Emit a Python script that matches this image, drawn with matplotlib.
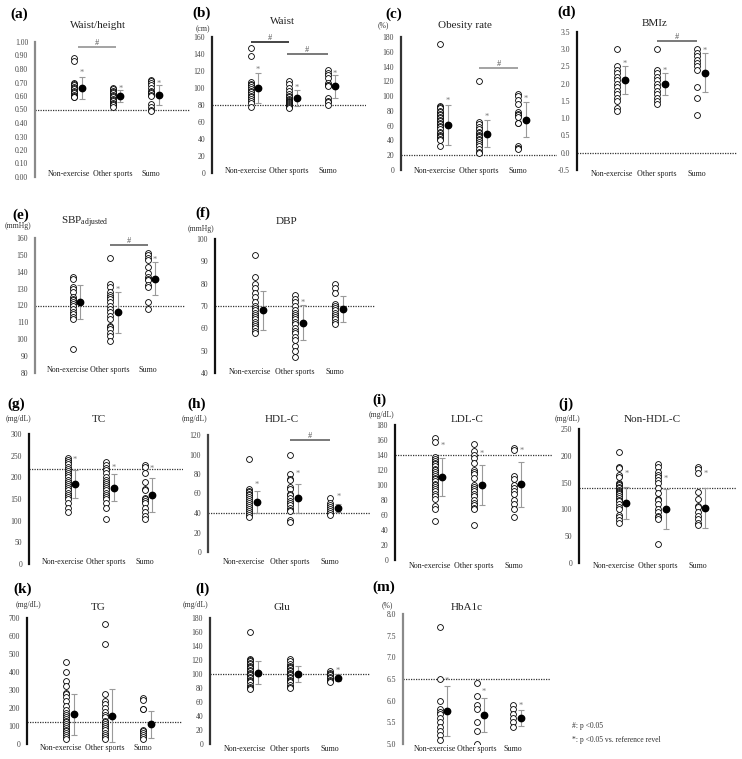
import matplotlib
matplotlib.use("Agg")
import matplotlib.pyplot as plt
import numpy as np

plt.rcParams['font.family'] = ['Liberation Serif', 'DejaVu Serif']
plt.rcParams['mathtext.fontset'] = 'custom'
plt.rcParams['mathtext.rm'] = 'Liberation Serif'

W, H = 742, 759
groups = ["Non-exercise", "Other sports", "Sumo"]

# (a) waist / height
wh_pts = [[0.88, 0.86, 0.70, 0.69, 0.68, 0.67, 0.66, 0.65, 0.64, 0.63, 0.62, 0.61, 0.60, 0.59, 0.59],
          [0.66, 0.65, 0.64, 0.63, 0.62, 0.61, 0.60, 0.59, 0.58, 0.57, 0.56, 0.55, 0.54, 0.53, 0.52],
          [0.72, 0.71, 0.70, 0.68, 0.66, 0.64, 0.63, 0.62, 0.61, 0.60, 0.54, 0.52, 0.50, 0.49]]
wh_mean = [0.66, 0.60, 0.61]
wh_sd = [0.083, 0.043, 0.073]
wh_star = [0.77, 0.65, 0.69]

# (b) waist
wa_pts = [[147, 138, 107, 105, 103, 101, 99, 97, 95, 93, 91, 89, 87, 85, 82, 78],
          [108, 105, 100, 96, 93, 91, 89, 87, 86, 85, 84, 83, 82, 81, 80, 79, 78, 77],
          [121, 118, 115, 112, 106, 104, 103, 102, 88, 85, 83, 80]]
wa_mean = [100, 88, 102]
wa_sd = [18, 9.5, 13.5]
wa_star = [121, 100, 117]

# (c) obesity rate
ob_pts = [[170, 86, 85, 84, 80, 78, 76, 74, 72, 70, 68, 66, 64, 62, 60, 58, 55, 52, 50, 48, 46, 44, 42, 40, 32],
          [120, 65, 62, 58, 55, 52, 50, 48, 46, 44, 42, 40, 38, 35, 32, 28, 25, 23],
          [103, 100, 95, 90, 78, 76, 74, 72, 64, 63, 32, 30, 28]]
ob_mean = [61, 49, 68]
ob_sd = [27, 18.5, 24]
ob_star = [93, 72, 96]

# (d) BMIz
bz_pts = [[3.0, 2.5, 2.4, 2.3, 2.2, 2.1, 2.0, 1.9, 1.8, 1.7, 1.6, 1.5, 1.3, 1.2],
          [3.0, 2.4, 2.3, 2.2, 2.1, 2.0, 1.9, 1.8, 1.7, 1.6, 1.5, 1.4],
          [3.0, 2.9, 2.8, 2.7, 2.6, 2.5, 2.4, 1.9, 1.6, 1.1]]
bz_mean = [2.1, 2.0, 2.32]
bz_sd = [0.4, 0.32, 0.57]
bz_star = [2.58, 2.38, 2.95]

# (e) SBP adjusted
sbp_pts = [[137, 136, 131, 130, 128, 125, 124, 123, 122, 121, 120, 118, 116, 115, 113, 112, 94],
           [148, 133, 131, 128, 126, 125, 124, 122, 120, 118, 116, 114, 112, 108, 107, 106, 104, 102, 99],
           [151, 150, 148, 147, 143, 139, 137, 136, 135, 132, 131, 122, 118]]
sbp_mean = [122, 116, 136]
sbp_sd = [10, 12, 10]
sbp_star = [None, 129, 147]

# (f) DBP
dbp_pts = [[93, 83, 80, 78, 76, 74, 72, 70, 69, 68, 67, 66, 65, 64, 63, 62, 61, 60, 59, 58],
           [75, 73, 72, 70, 68, 67, 66, 65, 64, 63, 62, 60, 59, 58, 56, 55, 52, 50, 47],
           [80, 78, 76, 71, 70, 69, 68, 67, 66, 65, 64, 63, 62]]
dbp_mean = [68, 62.5, 68.5]
dbp_sd = [8.7, 7.8, 5.8]
dbp_star = [None, 71.2, None]

# (g) TC
tc_pts = [[245, 240, 235, 230, 225, 220, 215, 210, 205, 200, 195, 190, 185, 180, 175, 170, 165, 160, 155, 150, 140, 130, 120],
          [235, 228, 222, 218, 210, 200, 195, 190, 185, 180, 175, 170, 165, 160, 155, 150, 140, 130, 105],
          [228, 225, 210, 190, 172, 170, 152, 150, 145, 140, 130, 120, 110, 105]]
tc_mean = [184, 176, 159]
tc_sd = [32, 31, 39]
tc_star = [240, 222, 220]

# (h) HDL-C
hdl_pts = [[95, 65, 63, 62, 60, 58, 56, 54, 52, 50, 48, 46, 44, 42, 40, 38, 36],
           [100, 80, 75, 74, 67, 65, 60, 58, 55, 52, 50, 48, 45, 43, 42, 33, 31],
           [55, 50, 48, 46, 44, 42, 40, 38]]
hdl_mean = [51, 55, 45]
hdl_sd = [11.5, 15, 4]
hdl_star = [69, 80, 57]

# (i) LDL-C
ldl_pts = [[163, 158, 138, 135, 132, 130, 128, 125, 122, 120, 118, 115, 112, 110, 108, 105, 102, 100, 98, 95, 92, 88, 85, 82, 72, 68, 52],
           [155, 145, 140, 136, 130, 120, 118, 115, 110, 100, 97, 95, 92, 88, 85, 80, 76, 73, 70, 68, 47],
           [150, 147, 112, 108, 100, 96, 92, 88, 80, 75, 68, 58]]
ldl_mean = [111, 100, 101]
ldl_sd = [25.5, 27, 30]
ldl_star = [152, 141, 145]

# (j) Non-HDL-C
nhdl_pts = [[208, 180, 178, 165, 160, 150, 147, 145, 142, 140, 137, 135, 132, 130, 128, 125, 122, 118, 115, 110, 105, 100, 90, 85, 80, 75],
            [185, 180, 170, 165, 160, 155, 150, 140, 130, 120, 118, 110, 100, 95, 88, 85, 82, 36],
            [180, 175, 167, 133, 120, 106, 104, 95, 88, 82, 75, 70]]
nhdl_mean = [112, 101, 102]
nhdl_sd = [30, 37, 37.5]
nhdl_star = [167, 156, 166]

# (k) TG
tg_pts = [[455, 400, 350, 320, 285, 280, 260, 240, 210, 190, 170, 160, 150, 140, 130, 120, 110, 100, 90, 80, 70, 60, 50, 40, 30],
          [668, 558, 280, 240, 220, 200, 180, 160, 150, 130, 120, 110, 100, 90, 80, 60, 50, 40, 30],
          [258, 243, 195, 192, 80, 70, 60, 50, 40, 30]]
tg_mean = [165, 157, 110]
tg_sd = [113, 146, 75]
tg_star = [None, None, None]

# (l) Glu
glu_pts = [[160, 122, 120, 118, 116, 114, 112, 110, 108, 106, 104, 102, 100, 98, 96, 94, 92, 90, 88, 84, 82, 80, 78],
           [122, 118, 115, 112, 110, 108, 106, 104, 102, 100, 98, 96, 94, 92, 90, 88, 85, 82, 80],
           [104, 102, 100, 98, 96, 94, 92, 90, 88]]
glu_mean = [102, 100, 95]
glu_sd = [16.5, 11, 4.5]
glu_star = [None, None, 104]

# (m) HbA1c
hb_pts = [[7.7, 6.5, 6.0, 5.8, 5.75, 5.7, 5.6, 5.5, 5.4, 5.3, 5.2, 5.1],
          [6.4, 6.1, 5.9, 5.8, 5.5, 5.3, 5.0],
          [5.9, 5.8, 5.7, 5.6, 5.5, 5.4]]
hb_mean = [5.77, 5.67, 5.6]
hb_sd = [0.58, 0.4, 0.18]
hb_star = [6.45, 6.2, 5.88]


def fx(x):
    return x / W


def fy(y):
    return 1 - y / H


fig = plt.figure(figsize=(W / 100, H / 100), dpi=100)

# label, title, unit, pts, mean, sd, star, ref, ylim, step, fmt, box(l,t,r,b), spine colour,
# title xy, label xy, unit xy, category label y (px), sig bars
panels = [
    ("(a)", "Waist/height", None, wh_pts, wh_mean, wh_sd, wh_star, 0.5, (0, 1.0), 0.1, "{:.2f}",
     (35, 42, 190, 177), "#8a8a8a", (98, 25), (10, 14), None, 174, [(1.1, 2.1, 0.963, "#8a8a8a")]),
    ("(b)", "Waist", "(cm)", wa_pts, wa_mean, wa_sd, wa_star, 80, (0, 160), 20, "{:.0f}",
     (212, 37, 366, 173), "#222222", (282, 22), (192, 13), (196, 29), 171,
     [(1.0, 2.0, 154, "#111111"), (1.95, 3.0, 140, "#555555")]),
    ("(c)", "Obesity rate", "(%)", ob_pts, ob_mean, ob_sd, ob_star, 20, (0, 180), 20, "{:.0f}",
     (401, 37, 557, 170), "#333333", (465, 26), (385, 14), (378, 25), 171, [(2.0, 3.0, 138, "#8a8a8a")]),
    ("(d)", "BMIz", None, bz_pts, bz_mean, bz_sd, bz_star, 0.0, (-0.5, 3.5), 0.5, "{:.1f}",
     (577, 32, 737, 170), "#111111", (655, 24), (557, 12), None, 174, [(2.0, 3.0, 3.23, "#555555")]),
    ("(e)", "SBP$_{\\mathrm{adjusted}}$", "(mmHg)", sbp_pts, sbp_mean, sbp_sd, sbp_star, 120, (80, 160), 10,
     "{:.0f}", (35, 238, 185, 373), "#8a8a8a", (85, 222), (12, 215), (5, 226), 370,
     [(2.0, 3.0, 156, "#555555")]),
    ("(f)", "DBP", "(mmHg)", dbp_pts, dbp_mean, dbp_sd, dbp_star, 70, (40, 100), 10, "{:.0f}",
     (215, 239, 375, 373), "#111111", (287, 222), (195, 213), (188, 229), 372, []),
    ("(g)", "TC", "(mg/dL)", tc_pts, tc_mean, tc_sd, tc_star, 220, (0, 300), 50, "{:.0f}",
     (29, 434, 183, 564), "#111111", (99, 420), (7, 404), (6, 419), 562, []),
    ("(h)", "HDL-C", "(mg/dL)", hdl_pts, hdl_mean, hdl_sd, hdl_star, 40, (0, 120), 20, "{:.0f}",
     (208, 435, 371, 552), "#444444", (282, 420), (187, 404), (182, 419), 562, [(2.0, 3.0, 115, "#555555")]),
    ("(i)", "LDL-C", "(mg/dL)", ldl_pts, ldl_mean, ldl_sd, ldl_star, 140, (0, 180), 20, "{:.0f}",
     (395, 425, 553, 560), "#111111", (467, 420), (372, 400), (369, 415), 566, []),
    ("(j)", "Non-HDL-C", "(mg/dL)", nhdl_pts, nhdl_mean, nhdl_sd, nhdl_star, 140, (0, 250), 50, "{:.0f}",
     (579, 429, 737, 563), "#111111", (652, 420), (558, 404), (555, 419), 566, []),
    ("(k)", "TG", "(mg/dL)", tg_pts, tg_mean, tg_sd, tg_star, 120, (0, 700), 100, "{:.0f}",
     (27, 618, 182, 744), "#111111", (98, 608), (13, 589), (16, 605), 748, []),
    ("(l)", "Glu", "(mg/dL)", glu_pts, glu_mean, glu_sd, glu_star, 100, (0, 180), 20, "{:.0f}",
     (210, 618, 370, 744), "#333333", (282, 607), (195, 589), (183, 605), 749, []),
    ("(m)", "HbA1c", "(%)", hb_pts, hb_mean, hb_sd, hb_star, 6.5, (5.0, 8.0), 0.5, "{:.1f}",
     (403, 614, 550, 744), "#8a8a8a", (467, 607), (372, 587), (382, 605), 749, []),
]

for (lab, title, unit, pts, mean, sd, star, ref, ylim, step, fmt, bx, scol,
     tpos, lpos, upos, caty, sigs) in panels:
    l, t, r, b = bx
    ax = fig.add_axes([fx(l), fy(b), (r - l) / W, (b - t) / H])
    ax.set_xlim(0, 4)
    ax.set_ylim(*ylim)
    ticks = np.arange(ylim[0], ylim[1] + step / 2, step)
    ax.set_yticks(ticks)
    ax.set_yticklabels([fmt.format(v) for v in ticks])
    ax.set_xticks([])
    ax.tick_params(axis="y", length=0, pad=5, labelsize=5.5, labelcolor="#444444")
    for s in ["top", "right", "bottom"]:
        ax.spines[s].set_visible(False)
    ax.spines["left"].set_color(scol)
    ax.spines["left"].set_linewidth(1.6)
    ax.patch.set_alpha(0)

    ax.axhline(ref, color="#333333", lw=0.9, ls=(0, (1, 1)), zorder=1)

    for i, g in enumerate(groups):
        x = i + 1
        ax.plot([x] * len(pts[i]), pts[i], "o", ms=4.2, mfc="white", mec="black", mew=0.6, zorder=3)
        ax.errorbar(x + 0.2, mean[i], yerr=sd[i], fmt="o", ms=4.6, color="black",
                    ecolor="#9a9a9a", elinewidth=0.8, capsize=2.2, capthick=0.8, zorder=4)
        if star[i] is not None:
            ax.text(x + 0.2, star[i], "*", ha="center", va="center", fontsize=6, color="#777777")

    # category names under each panel
    for i, g in enumerate(groups):
        x0 = fx(l) + (r - l) / W * ((i + 1 - (0.12 if i == 0 else 0)) / 4)
        fig.text(x0, fy(caty), g, ha="center", va="center", fontsize=5.8, color="#222222")

    for x0, x1, yv, c in sigs:
        ax.plot([x0, x1], [yv, yv], color=c, lw=1.1, solid_capstyle="butt")
        ax.text((x0 + x1) / 2, yv, "#", ha="center", va="bottom", fontsize=6, color="#555555")

    fig.text(fx(tpos[0]), fy(tpos[1]), title, ha="center", va="center", fontsize=8, color="#222222")
    fig.text(fx(lpos[0]), fy(lpos[1]), lab, ha="left", va="center", fontsize=11, fontweight="bold")
    if unit is not None:
        fig.text(fx(upos[0]), fy(upos[1]), unit, ha="left", va="center", fontsize=5.5, color="#333333")

fig.text(fx(572), fy(726), "#: p <0.05", ha="left", va="center", fontsize=5.5, color="#333333")
fig.text(fx(572), fy(740), "*: p <0.05 vs. reference revel", ha="left", va="center", fontsize=5.5,
         color="#333333")

fig.savefig("out.png", dpi=100)
